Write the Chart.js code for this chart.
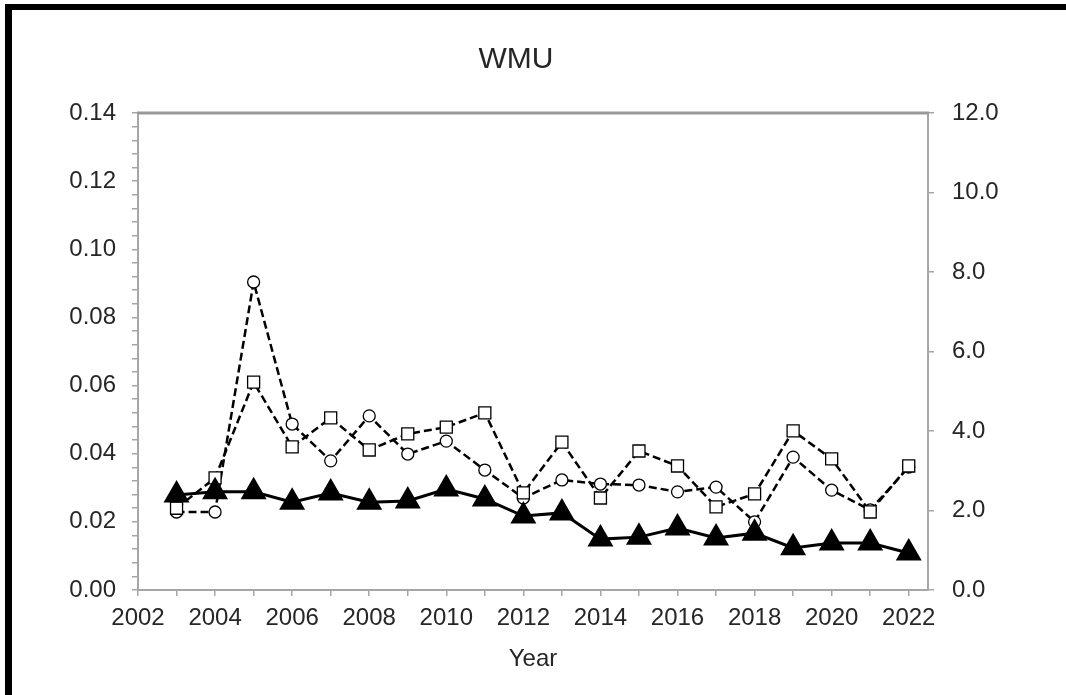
<!DOCTYPE html>
<html>
<head>
<meta charset="utf-8">
<title>WMU</title>
<script src="https://cdn.jsdelivr.net/npm/chart.js@4/dist/chart.umd.min.js"></script>
<style>
  html, body { margin: 0; padding: 0; background: #fff; overflow: hidden; }
  #frame {
    position: absolute; left: 5px; top: 4px; width: 1200px; height: 800px;
    border-top: 6px solid #000; border-left: 7px solid #000;
  }
  #wmuChart { position: absolute; left: 0; top: 0; }
</style>
</head>
<body>
<div id="frame"></div>
<canvas id="wmuChart" width="1066" height="695"></canvas>
<script>
// data
const years = [2003, 2004, 2005, 2006, 2007, 2008, 2009, 2010, 2011, 2012,
               2013, 2014, 2015, 2016, 2017, 2018, 2019, 2020, 2021, 2022];
const circleVals = [0.0229, 0.0229, 0.0904, 0.0487, 0.0379, 0.0511, 0.0399, 0.0437, 0.0352, 0.0270,
                    0.0323, 0.0311, 0.0308, 0.0288, 0.0302, 0.0200, 0.0390, 0.0293, 0.0235, 0.0361];
const squareVals = [0.0240, 0.0329, 0.0610, 0.0420, 0.0505, 0.0411, 0.0458, 0.0478, 0.0520, 0.0285,
                    0.0434, 0.0270, 0.0408, 0.0364, 0.0244, 0.0282, 0.0467, 0.0385, 0.0229, 0.0364];
const triangleVals = [2.39, 2.47, 2.47, 2.21, 2.44, 2.21, 2.24, 2.54, 2.29, 1.86,
                      1.94, 1.28, 1.33, 1.56, 1.31, 1.43, 1.06, 1.18, 1.18, 0.93];

const axisGrey = '#a6a6a6';
const textGrey = '#262626';
const font = { family: '"Liberation Sans", Arial, sans-serif', size: 24 };

function pts(vals) {
  return years.map((y, i) => ({ x: y, y: vals[i] }));
}

// grey line along the top of the plot area
const plotBorder = {
  id: 'plotBorder',
  afterDraw(chart) {
    const a = chart.chartArea, c = chart.ctx;
    c.save();
    c.strokeStyle = '#999';
    c.lineWidth = 3;
    c.beginPath();
    c.moveTo(a.left - 1, a.top);
    c.lineTo(a.right + 1, a.top);
    c.stroke();
    c.restore();
  }
};

const ctx = document.getElementById('wmuChart').getContext('2d');
new Chart(ctx, {
  type: 'line',
  data: {
    datasets: [{
      label: 'triangles',
      data: pts(triangleVals),
      yAxisID: 'y2',
      borderColor: '#000',
      borderWidth: 3,
      pointStyle: 'triangle',
      pointRadius: 12,
      pointBackgroundColor: '#000',
      pointBorderColor: '#000',
      order: 0
    }, {
      label: 'squares',
      data: pts(squareVals),
      yAxisID: 'y',
      borderColor: '#000',
      borderWidth: 2.5,
      borderDash: [8, 4],
      pointStyle: 'rect',
      pointRadius: 8.5,
      pointBorderWidth: 1.3,
      pointBackgroundColor: '#fff',
      pointBorderColor: '#000',
      order: 1
    }, {
      label: 'circles',
      data: pts(circleVals),
      yAxisID: 'y',
      borderColor: '#000',
      borderWidth: 2.5,
      borderDash: [8, 4],
      pointStyle: 'circle',
      pointRadius: 6,
      pointBorderWidth: 1.3,
      pointBackgroundColor: '#fff',
      pointBorderColor: '#000',
      order: 2
    }]
  },
  options: {
    responsive: false,
    animation: false,
    layout: { padding: { left: 3, right: 37, top: 42, bottom: 10 } },
    plugins: {
      legend: { display: false },
      tooltip: { enabled: false },
      title: {
        display: true,
        text: 'WMU',
        color: textGrey,
        font: { family: font.family, size: 30, weight: 'normal' },
        padding: { top: 0, bottom: 35 }
      }
    },
    scales: {
      x: {
        type: 'linear',
        min: 2002,
        max: 2022.5,
        afterFit: s => { s.height = 95; },
        border: { color: axisGrey, width: 2 },
        grid: { drawOnChartArea: false, color: axisGrey, tickLength: 6, lineWidth: 1.5 },
        ticks: {
          stepSize: 1,
          includeBounds: false,
          autoSkip: false,
          maxRotation: 0,
          color: textGrey,
          font: font,
          padding: 8,
          callback: v => (Number.isInteger(v) ? (v % 2 === 0 ? String(v) : '') : null)
        },
        title: {
          display: true,
          text: 'Year',
          color: textGrey,
          font: font,
          padding: { top: 0, bottom: 11 }
        }
      },
      y: {
        position: 'left',
        min: 0,
        max: 0.14,
        afterFit: s => { s.width = 135; },
        border: { color: axisGrey, width: 2 },
        grid: { drawOnChartArea: false, color: axisGrey, tickLength: 6, lineWidth: 1.5 },
        ticks: {
          stepSize: 0.004,
          autoSkip: false,
          color: textGrey,
          font: font,
          padding: 16,
          callback: v => {
            const k = Math.round(v * 1000);
            return k % 20 === 0 ? (k / 1000).toFixed(2) : '';
          }
        }
      },
      y2: {
        position: 'right',
        min: 0,
        max: 12,
        afterFit: s => { s.width = 101; },
        border: { color: axisGrey, width: 2 },
        grid: { drawOnChartArea: false, color: axisGrey, tickLength: 6, lineWidth: 1.5 },
        ticks: {
          stepSize: 2,
          color: textGrey,
          font: font,
          padding: 18,
          callback: v => v.toFixed(1)
        }
      }
    }
  },
  plugins: [plotBorder]
});
</script>
</body>
</html>
